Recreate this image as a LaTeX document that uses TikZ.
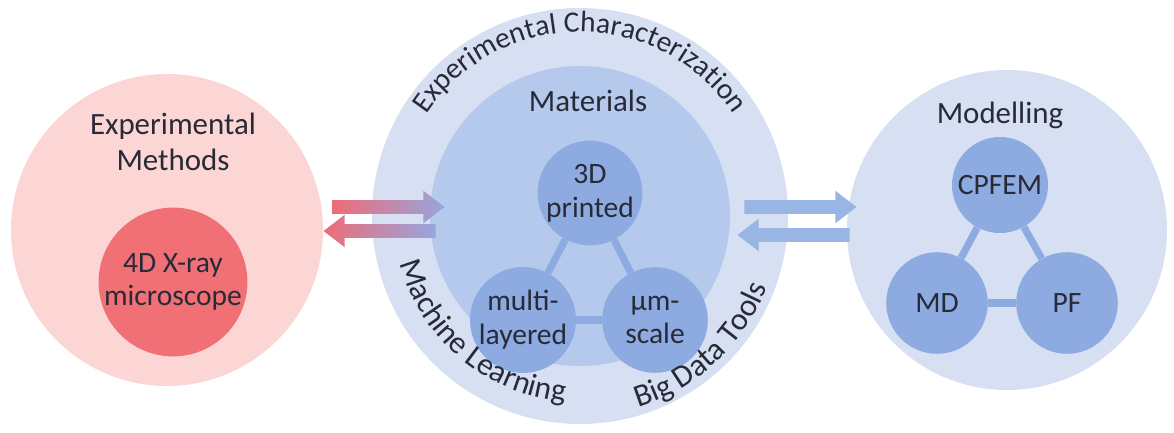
\documentclass[tikz,border=0pt]{standalone}
\usepackage{fontspec}
\setmainfont{Carlito}
\usetikzlibrary{positioning}
\usetikzlibrary{shapes.arrows}
\usetikzlibrary{decorations.text}
\definecolor{pinkbg}{RGB}{251,214,212}
\definecolor{redcore}{RGB}{240,112,118}
\definecolor{bluering}{RGB}{214,224,242}
\definecolor{bluemid}{RGB}{181,201,236}
\definecolor{bluesmall}{RGB}{141,171,224}
\definecolor{arrowred}{RGB}{238,108,118}
\definecolor{arrowviolet}{RGB}{150,166,222}
\definecolor{arrowblue}{RGB}{152,181,228}
\definecolor{ink}{RGB}{40,42,56}
\newcommand{\headfont}{\fontsize{22}{26}\selectfont}
\newcommand{\labelfont}{\fontsize{21}{24}\selectfont}
\newcommand{\arcfont}{\fontsize{21}{24}\selectfont\color{ink}}
\newcommand{\lowarcfont}{\fontsize{22.5}{26}\selectfont\color{ink}}

\begin{document}
\begin{tikzpicture}[
    disc/.style={circle, inner sep=0pt, draw=none},
    txt/.style={align=center, text=ink, font=\labelfont},
    head/.style={align=center, text=ink, font=\headfont},
    link/.style={draw=bluesmall, line width=0.18cm},
    pipe/.style={single arrow, draw=none, inner xsep=0pt, inner ysep=0.165cm,
        minimum height=2.8cm, minimum width=0.8cm, single arrow head extend=0.235cm,
        single arrow tip angle=75}
]
    \useasboundingbox (0,0) rectangle (29.35,10.825);

    \node[disc, fill=pinkbg, minimum size=7.8cm] (methods) at (4.175,5.075) {};
    \node[disc, fill=redcore, minimum size=3.7cm, txt] (xray) at (4.325,3.775) {4D X-ray\\microscope};
    \node[head] (methodsT) at (4.325,7.275) {Experimental\\Methods};

    \node[disc, fill=bluering, minimum size=10.4cm] (charact) at (14.5,5.425) {};
    \node[disc, fill=bluemid, minimum size=7.5cm] (materials) at (14.5,5.425) {};
    \node[head] (materialsT) at (14.7,8.3) {Materials};
    \node[disc, fill=bluesmall, minimum size=2.6cm, txt] (printed) at (14.75,6.0) {3D\\printed};
    \node[disc, fill=bluesmall, minimum size=2.64cm, txt] (multi) at (13.075,2.825) {multi-\\layered};
    \node[disc, fill=bluesmall, minimum size=2.64cm, txt] (micro) at (16.375,2.825) {µm-\\scale};
    \draw[link] (printed) -- (multi);
    \draw[link] (printed) -- (micro);
    \draw[link] (multi) -- (micro);

    \path[decorate, decoration={text along path, text align=center,
        text={|\arcfont|Experimental Characterization}}]
        ([shift={(178:4.6)}]charact.center) arc[start angle=178, end angle=2, radius=4.6];
    \path[decorate, decoration={text along path, text align=center,
        text={|\lowarcfont|Machine Learning}}]
        ([shift={(170:4.65)}]charact.center) arc[start angle=170, end angle=290, radius=4.65];
    \path[decorate, decoration={text along path, text align=center,
        text={|\lowarcfont|Big Data Tools}}]
        ([shift={(273:5.0)}]charact.center) arc[start angle=273, end angle=353, radius=5.0];

    \node[disc, fill=bluering, minimum size=8.0cm] (modelling) at (25.175,5.075) {};
    \node[head] (modellingT) at (25.0,7.95) {Modelling};
    \node[disc, fill=bluesmall, minimum size=2.4cm, txt] (cpfem) at (25.0,6.2) {CPFEM};
    \node[disc, fill=bluesmall, minimum size=2.54cm, txt] (md) at (23.425,3.25) {MD};
    \node[disc, fill=bluesmall, minimum size=2.54cm, txt] (pf) at (26.675,3.25) {PF};
    \draw[link] (cpfem) -- (md);
    \draw[link] (cpfem) -- (pf);
    \draw[link] (md) -- (pf);

    \node[pipe, left color=arrowred, right color=arrowviolet] (toMat) at (9.6,5.65) {};
    \node[pipe, shape border rotate=180, left color=arrowred, right color=arrowviolet] (fromMat) at (9.6,5.05) {};
    \node[pipe, fill=arrowblue] (toModel) at (19.9,5.65) {};
    \node[pipe, shape border rotate=180, fill=arrowblue] (fromModel) at (19.95,4.95) {};
\end{tikzpicture}
\end{document}
